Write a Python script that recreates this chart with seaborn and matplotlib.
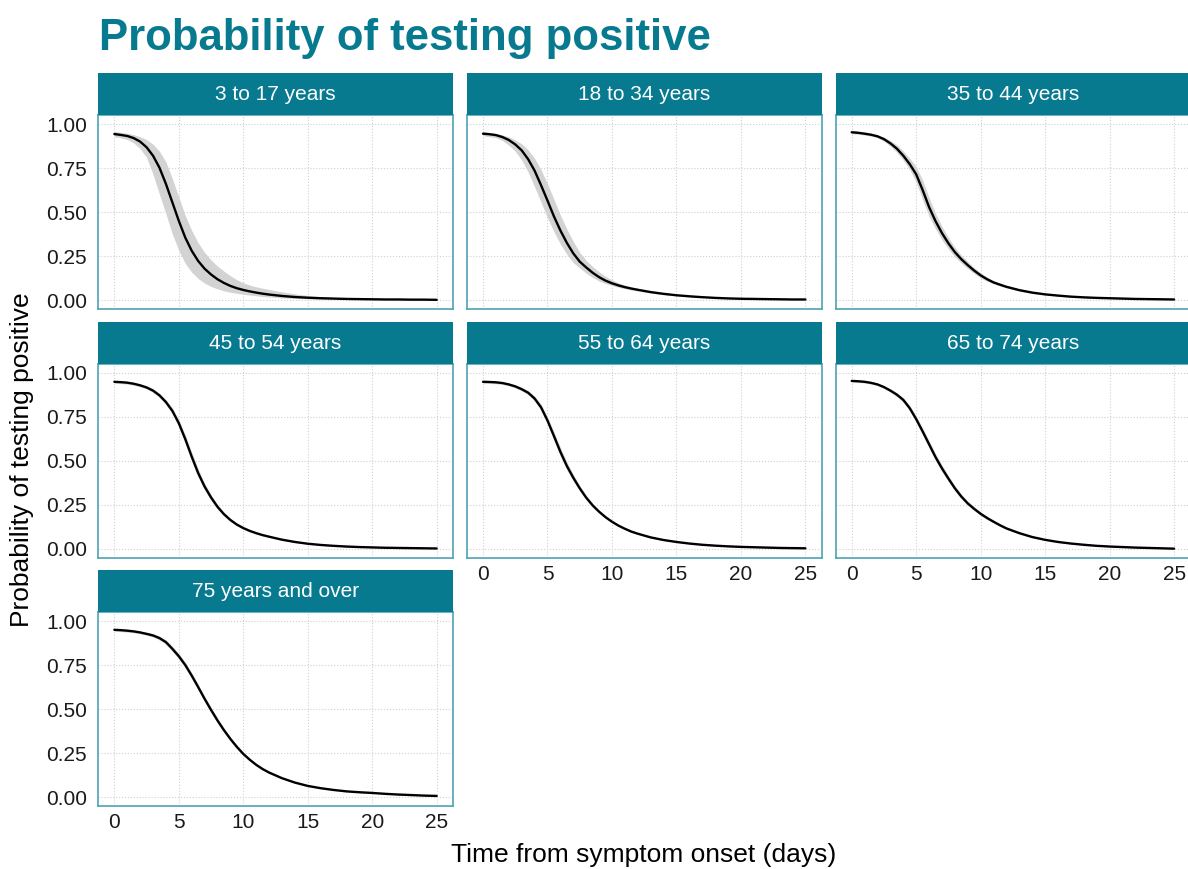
import pandas as pd
import seaborn as sns
import matplotlib.pyplot as plt
from matplotlib.patches import Rectangle

sns.set_theme(style="whitegrid")
plt.rcParams['font.family'] = ['Liberation Sans', 'DejaVu Sans']

teal = "#077a8f"
border = "#4ea3b4"

days = [0, 0.5, 1, 1.5, 2, 2.5, 3, 3.5, 4, 4.5, 5, 5.5, 6, 6.5, 7, 7.5, 8, 8.5, 9, 9.5,
        10, 10.5, 11, 11.5, 12, 13, 14, 15, 16, 17, 18, 19, 20, 21, 22, 23, 24, 25]
age_groups = ["3 to 17 years", "18 to 34 years", "35 to 44 years", "45 to 54 years",
              "55 to 64 years", "65 to 74 years", "75 years and over"]

# median probability per day, with lower / upper edge of the grey band
p_3_17 = [0.943, 0.938, 0.932, 0.920, 0.900, 0.868, 0.820, 0.752, 0.660, 0.555, 0.450, 0.355, 0.280,
          0.222, 0.178, 0.145, 0.118, 0.097, 0.080, 0.067, 0.057, 0.049, 0.042, 0.036, 0.031, 0.023,
          0.017, 0.013, 0.010, 0.008, 0.006, 0.005, 0.004, 0.003, 0.003, 0.002, 0.002, 0.001]
lo_3_17 = [0.928, 0.922, 0.912, 0.893, 0.860, 0.810, 0.715, 0.600, 0.490, 0.375, 0.282, 0.208, 0.158,
           0.122, 0.096, 0.077, 0.063, 0.052, 0.044, 0.038, 0.032, 0.028, 0.024, 0.020, 0.017, 0.012,
           0.009, 0.007, 0.005, 0.004, 0.003, 0.003, 0.002, 0.002, 0.001, 0.001, 0.001, 0.001]
hi_3_17 = [0.958, 0.953, 0.947, 0.940, 0.928, 0.912, 0.885, 0.845, 0.785, 0.690, 0.585, 0.480, 0.395,
           0.325, 0.270, 0.228, 0.193, 0.164, 0.138, 0.115, 0.098, 0.085, 0.075, 0.067, 0.060, 0.046,
           0.035, 0.026, 0.019, 0.014, 0.010, 0.007, 0.005, 0.004, 0.003, 0.003, 0.002, 0.002]

p_18_34 = [0.945, 0.942, 0.937, 0.926, 0.909, 0.884, 0.850, 0.800, 0.735, 0.652, 0.565, 0.475, 0.395,
           0.325, 0.265, 0.218, 0.185, 0.155, 0.130, 0.110, 0.095, 0.083, 0.073, 0.065, 0.058, 0.045,
           0.035, 0.027, 0.021, 0.016, 0.012, 0.009, 0.007, 0.006, 0.005, 0.004, 0.003, 0.003]
lo_18_34 = [0.933, 0.928, 0.922, 0.906, 0.880, 0.845, 0.795, 0.727, 0.643, 0.556, 0.467, 0.388, 0.318,
            0.260, 0.212, 0.182, 0.152, 0.128, 0.108, 0.093, 0.082, 0.072, 0.064, 0.057, 0.051, 0.039,
            0.030, 0.023, 0.018, 0.014, 0.010, 0.008, 0.006, 0.005, 0.004, 0.003, 0.003, 0.002]
hi_18_34 = [0.957, 0.952, 0.946, 0.938, 0.927, 0.910, 0.887, 0.853, 0.805, 0.740, 0.660, 0.573, 0.483,
            0.403, 0.332, 0.271, 0.225, 0.190, 0.160, 0.135, 0.114, 0.098, 0.085, 0.075, 0.066, 0.052,
            0.040, 0.031, 0.024, 0.018, 0.014, 0.011, 0.008, 0.007, 0.006, 0.005, 0.004, 0.003]

p_35_44 = [0.953, 0.950, 0.945, 0.939, 0.930, 0.914, 0.890, 0.860, 0.820, 0.772, 0.714, 0.625, 0.528,
           0.448, 0.380, 0.322, 0.272, 0.232, 0.198, 0.167, 0.140, 0.118, 0.100, 0.087, 0.075, 0.056,
           0.042, 0.032, 0.025, 0.019, 0.015, 0.012, 0.010, 0.008, 0.006, 0.005, 0.004, 0.003]
lo_35_44 = [0.945, 0.942, 0.937, 0.931, 0.922, 0.902, 0.874, 0.839, 0.794, 0.740, 0.670, 0.569, 0.475,
            0.404, 0.342, 0.290, 0.245, 0.210, 0.178, 0.150, 0.125, 0.106, 0.091, 0.079, 0.068, 0.050,
            0.037, 0.028, 0.022, 0.016, 0.013, 0.010, 0.008, 0.007, 0.005, 0.004, 0.003, 0.002]
hi_35_44 = [0.961, 0.958, 0.953, 0.947, 0.938, 0.926, 0.906, 0.881, 0.846, 0.804, 0.758, 0.681, 0.581,
            0.492, 0.418, 0.354, 0.299, 0.254, 0.218, 0.184, 0.155, 0.130, 0.109, 0.095, 0.082, 0.062,
            0.047, 0.036, 0.028, 0.022, 0.017, 0.014, 0.012, 0.009, 0.007, 0.006, 0.005, 0.004]

p_45_54 = [0.950, 0.948, 0.945, 0.939, 0.930, 0.918, 0.900, 0.873, 0.835, 0.785, 0.715, 0.625, 0.525,
           0.432, 0.355, 0.293, 0.240, 0.198, 0.165, 0.139, 0.119, 0.103, 0.090, 0.079, 0.070, 0.053,
           0.040, 0.030, 0.023, 0.018, 0.014, 0.011, 0.009, 0.007, 0.006, 0.005, 0.004, 0.003]
lo_45_54 = [0.942, 0.940, 0.937, 0.931, 0.922, 0.909, 0.890, 0.861, 0.821, 0.768, 0.695, 0.601, 0.500,
            0.409, 0.336, 0.277, 0.227, 0.187, 0.156, 0.131, 0.112, 0.097, 0.085, 0.074, 0.066, 0.049,
            0.037, 0.027, 0.021, 0.016, 0.012, 0.010, 0.008, 0.006, 0.005, 0.004, 0.003, 0.002]
hi_45_54 = [0.958, 0.956, 0.953, 0.947, 0.938, 0.927, 0.910, 0.885, 0.849, 0.802, 0.735, 0.649, 0.550,
            0.455, 0.374, 0.309, 0.253, 0.209, 0.174, 0.147, 0.126, 0.109, 0.095, 0.084, 0.074, 0.057,
            0.043, 0.033, 0.025, 0.020, 0.016, 0.012, 0.010, 0.008, 0.007, 0.006, 0.005, 0.004]

p_55_64 = [0.950, 0.949, 0.947, 0.943, 0.935, 0.924, 0.908, 0.888, 0.855, 0.805, 0.730, 0.642, 0.552,
           0.472, 0.405, 0.345, 0.292, 0.248, 0.212, 0.181, 0.155, 0.133, 0.115, 0.099, 0.087, 0.066,
           0.051, 0.040, 0.031, 0.024, 0.019, 0.015, 0.012, 0.010, 0.008, 0.006, 0.005, 0.004]
lo_55_64 = [0.942, 0.941, 0.939, 0.935, 0.927, 0.915, 0.898, 0.876, 0.841, 0.788, 0.710, 0.618, 0.527,
            0.449, 0.386, 0.329, 0.279, 0.237, 0.203, 0.173, 0.148, 0.127, 0.110, 0.094, 0.083, 0.062,
            0.048, 0.037, 0.029, 0.022, 0.017, 0.014, 0.011, 0.009, 0.007, 0.005, 0.004, 0.003]
hi_55_64 = [0.958, 0.957, 0.955, 0.951, 0.943, 0.933, 0.918, 0.900, 0.869, 0.822, 0.750, 0.666, 0.577,
            0.495, 0.424, 0.361, 0.305, 0.259, 0.221, 0.189, 0.162, 0.139, 0.120, 0.104, 0.091, 0.070,
            0.054, 0.043, 0.033, 0.026, 0.021, 0.016, 0.013, 0.011, 0.009, 0.007, 0.006, 0.005]

p_65_74 = [0.955, 0.953, 0.950, 0.944, 0.935, 0.920, 0.900, 0.877, 0.847, 0.800, 0.738, 0.668, 0.595,
           0.522, 0.458, 0.400, 0.345, 0.298, 0.259, 0.228, 0.200, 0.176, 0.155, 0.135, 0.117, 0.090,
           0.068, 0.052, 0.040, 0.031, 0.024, 0.018, 0.014, 0.011, 0.008, 0.006, 0.004, 0.002]
lo_65_74 = [0.948, 0.946, 0.943, 0.937, 0.928, 0.912, 0.891, 0.866, 0.834, 0.785, 0.720, 0.648, 0.575,
            0.502, 0.439, 0.383, 0.330, 0.284, 0.247, 0.217, 0.190, 0.167, 0.147, 0.128, 0.111, 0.085,
            0.064, 0.049, 0.037, 0.029, 0.022, 0.016, 0.012, 0.010, 0.007, 0.005, 0.003, 0.001]
hi_65_74 = [0.962, 0.960, 0.957, 0.951, 0.942, 0.928, 0.909, 0.888, 0.860, 0.815, 0.756, 0.688, 0.615,
            0.542, 0.477, 0.417, 0.360, 0.312, 0.271, 0.239, 0.210, 0.185, 0.163, 0.142, 0.123, 0.095,
            0.072, 0.055, 0.043, 0.033, 0.026, 0.020, 0.016, 0.012, 0.009, 0.007, 0.005, 0.003]

p_75 = [0.950, 0.948, 0.945, 0.941, 0.935, 0.927, 0.918, 0.903, 0.880, 0.842, 0.800, 0.750, 0.690,
        0.625, 0.558, 0.495, 0.435, 0.380, 0.330, 0.285, 0.245, 0.212, 0.183, 0.159, 0.139, 0.107,
        0.082, 0.063, 0.050, 0.040, 0.032, 0.027, 0.023, 0.018, 0.014, 0.011, 0.008, 0.006]
lo_75 = [0.942, 0.940, 0.937, 0.933, 0.927, 0.919, 0.909, 0.892, 0.867, 0.827, 0.784, 0.734, 0.674,
         0.609, 0.542, 0.480, 0.421, 0.367, 0.318, 0.274, 0.236, 0.204, 0.176, 0.153, 0.134, 0.103,
         0.079, 0.060, 0.048, 0.038, 0.030, 0.025, 0.021, 0.017, 0.013, 0.010, 0.007, 0.005]
hi_75 = [0.958, 0.956, 0.953, 0.949, 0.943, 0.935, 0.927, 0.914, 0.893, 0.857, 0.816, 0.766, 0.706,
         0.641, 0.574, 0.510, 0.449, 0.393, 0.342, 0.296, 0.254, 0.220, 0.190, 0.165, 0.144, 0.111,
         0.085, 0.066, 0.052, 0.042, 0.034, 0.029, 0.025, 0.019, 0.015, 0.012, 0.009, 0.007]

series = [(p_3_17, lo_3_17, hi_3_17), (p_18_34, lo_18_34, hi_18_34), (p_35_44, lo_35_44, hi_35_44),
          (p_45_54, lo_45_54, hi_45_54), (p_55_64, lo_55_64, hi_55_64), (p_65_74, lo_65_74, hi_65_74),
          (p_75, lo_75, hi_75)]

rows = []
for age, (p, lo, hi) in zip(age_groups, series):
    for d, a, b, c in zip(days, p, lo, hi):
        rows.append([age, d, a, b, c])
df = pd.DataFrame(rows, columns=["age", "day", "p", "lo", "hi"])


def draw_panel(data, **kws):
    ax = plt.gca()
    ax.fill_between(data["day"], data["lo"], data["hi"], color="#d3d3d3", lw=0, zorder=2)
    sns.lineplot(data=data, x="day", y="p", color="black", lw=1.7, ax=ax, zorder=3)


g = sns.FacetGrid(df, col="age", col_wrap=3, col_order=age_groups, sharex=True, sharey=True,
                  height=2.5, aspect=1.8)
g.map_dataframe(draw_panel)
g.fig.set_size_inches(11.88, 8.69)
g.set_titles("")
g.set_axis_labels("", "")

W, H = 1188, 869
col_left = [98.2, 466.9, 835.6]
row_top = [115.2, 364.2, 612.2]
pw, ph = 354.6, 193.6
strip_h = 42

for i, age in enumerate(age_groups):
    ax = g.axes_dict[age]
    r, c = divmod(i, 3)
    ax.set_position([col_left[c] / W, 1 - (row_top[r] + ph) / H, pw / W, ph / H])
    ax.set_xlim(-1.25, 26.25)
    ax.set_ylim(-0.05, 1.05)
    ax.set_xticks([0, 5, 10, 15, 20, 25])
    ax.set_yticks([0, 0.25, 0.5, 0.75, 1.0])
    if c == 0:
        ax.set_yticklabels(["0.00", "0.25", "0.50", "0.75", "1.00"])
    ax.tick_params(length=0, labelsize=15, colors="#1a1a1a")
    ax.tick_params(axis="y", pad=8)
    ax.tick_params(axis="x", pad=5)
    ax.grid(True, ls=":", lw=0.8, color="#d0d0d0")
    ax.set_facecolor("white")
    for s in ax.spines.values():
        s.set_visible(True)
        s.set_color(border)
        s.set_linewidth(1.2)
    sh = strip_h / ph
    ax.add_patch(Rectangle((0, 1), 1, sh, transform=ax.transAxes, clip_on=False,
                           facecolor=teal, edgecolor="none", zorder=5))
    ax.text(0.5, 1 + sh / 2, age, transform=ax.transAxes, ha="center", va="center",
            color="white", fontsize=15, zorder=6)

g.fig.text(99 / W, 1 - 50 / H, "Probability of testing positive", color=teal,
           fontsize=31.5, fontweight="bold", ha="left", va="baseline")
g.fig.text(644 / W, 1 - 855 / H, "Time from symptom onset (days)", fontsize=19,
           ha="center", va="center", color="black")
g.fig.text(22 / W, 1 - 460 / H, "Probability of testing positive", fontsize=19,
           ha="center", va="center", rotation=90, color="black")

g.fig.savefig("out.png", dpi=100)
